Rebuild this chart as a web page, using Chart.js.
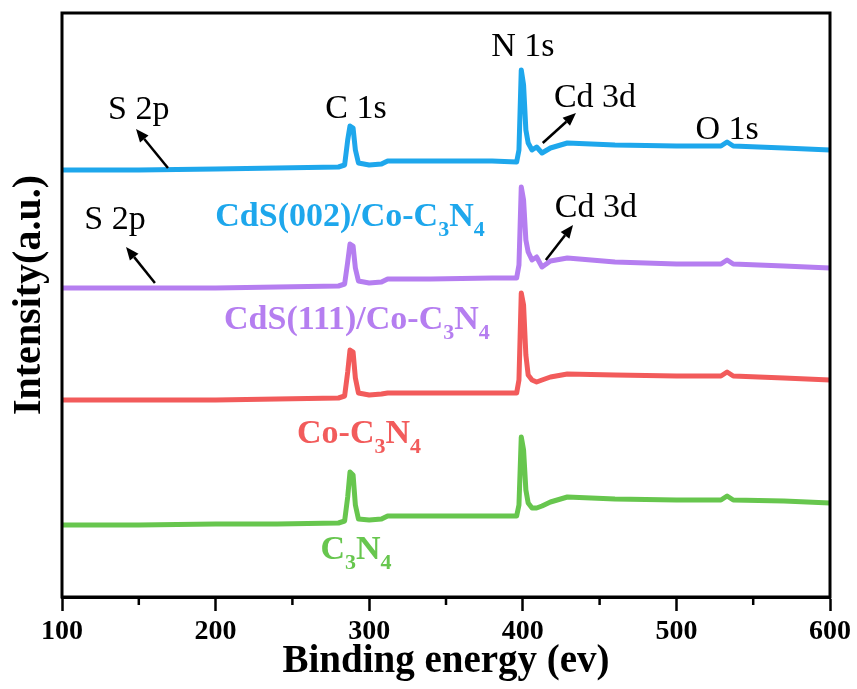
<!DOCTYPE html>
<html>
<head>
<meta charset="utf-8">
<script src="https://cdn.jsdelivr.net/npm/chart.js@4.4.1/dist/chart.umd.min.js"></script>
<style>
  html, body { margin: 0; padding: 0; background: #ffffff; }
  #wrap { width: 857px; height: 689px; }
</style>
</head>
<body>
<div id="wrap"><canvas id="xps" width="857" height="689"></canvas></div>
<script>
// XPS survey spectra, binding energy (eV) vs. stacked intensity (a.u.)
const energy = [100, 150, 200, 240, 280, 284, 286, 287.5, 289.5, 291, 293, 300, 308, 312, 340, 380,
  396, 397.5, 399, 400.5, 402, 403.5, 406, 409, 412.5, 418, 429, 460, 500, 529, 533, 537, 570, 600];

const c3n4    = [72, 72, 73, 73, 74, 76, 100, 125, 122, 92, 78, 77, 78, 81, 81, 81,
  81, 92, 160, 147, 107, 94, 89, 89, 91, 95, 100, 98, 97, 97, 101, 97, 96, 94];
const coC3n4  = [197, 197, 197, 198, 199, 201, 225, 247, 245, 219, 204, 202, 203, 204, 204, 204,
  204, 217, 304, 292, 242, 222, 217, 215, 217, 220, 223, 222, 221, 221, 225, 221, 219, 217];
const cds111  = [309, 309, 309, 310, 311, 313, 335, 353, 351, 329, 316, 314, 315, 318, 318, 319,
  319, 332, 410, 397, 357, 345, 337, 340, 330, 336, 339, 335, 333, 333, 337, 333, 331, 329];
const cds002  = [427, 427, 428, 429, 430, 432, 457, 471, 469, 447, 434, 432, 433, 436, 436, 436,
  435, 447, 527, 512, 467, 454, 447, 450, 444, 449, 454, 452, 451, 451, 455, 451, 449, 447];

const xMajorTicks = [100, 200, 300, 400, 500, 600];
const xMinorTicks = [150, 250, 350, 450, 550];

// sample names ("_x" marks a subscript character)
const sampleNames = ['C_3N_4', 'Co-C_3N_4', 'CdS(111)/Co-C_3N_4', 'CdS(002)/Co-C_3N_4'];
const sampleColors = ['#67c64e', '#f25b5b', '#b57ef0', '#1ea7ec'];

// peak assignments
const peakNames = ['N 1s', 'C 1s', 'S 2p', 'Cd 3d', 'O 1s', 'S 2p', 'Cd 3d'];

// label placement in data space
const peakLabelE = [400, 291.4, 150, 447, 533, 134.5, 447.6];
const peakLabelI = [550, 488, 487, 499, 467, 377, 389];
const arrowFromE = [169, 160.5, 413, 415];
const arrowFromI = [429, 314, 454, 337];
const arrowToE   = [148.2, 141.7, 434.6, 432.7];
const arrowToI   = [468, 350, 484, 372];
const sampleLabelE = [291.4, 293.4, 292, 287.5];
const sampleLabelI = [49, 165, 279, 382];
const yTitleI = 302;

const SERIF = '"Liberation Serif", "Times New Roman", serif';

function toPoints(values) {
  return energy.map((e, i) => ({ x: e, y: values[i] }));
}

function drawRichText(ctx, text, cx, cy, size, color) {
  const parts = [];
  for (let i = 0; i < text.length; i++) {
    if (text[i] === '_' && i + 1 < text.length) { parts.push({ t: text[i + 1], sub: true }); i++; }
    else if (parts.length && !parts[parts.length - 1].sub) parts[parts.length - 1].t += text[i];
    else parts.push({ t: text[i], sub: false });
  }
  const subSize = Math.round(size * 0.64);
  let total = 0;
  parts.forEach(p => {
    ctx.font = 'bold ' + (p.sub ? subSize : size) + 'px ' + SERIF;
    p.w = ctx.measureText(p.t).width;
    total += p.w;
  });
  let x = cx - total / 2;
  const base = cy + size * 0.33;
  ctx.fillStyle = color;
  ctx.textAlign = 'left';
  ctx.textBaseline = 'alphabetic';
  parts.forEach(p => {
    ctx.font = 'bold ' + (p.sub ? subSize : size) + 'px ' + SERIF;
    ctx.fillText(p.t, x, p.sub ? base + size * 0.3 : base);
    x += p.w;
  });
}

function drawArrow(ctx, x1, y1, x2, y2) {
  const ang = Math.atan2(y2 - y1, x2 - x1);
  const head = 13, half = 5.5;
  const bx = x2 - head * Math.cos(ang), by = y2 - head * Math.sin(ang);
  ctx.strokeStyle = '#000';
  ctx.lineWidth = 2.5;
  ctx.beginPath();
  ctx.moveTo(x1, y1);
  ctx.lineTo(bx, by);
  ctx.stroke();
  ctx.fillStyle = '#000';
  ctx.beginPath();
  ctx.moveTo(x2, y2);
  ctx.lineTo(bx + half * Math.sin(ang), by - half * Math.cos(ang));
  ctx.lineTo(bx - half * Math.sin(ang), by + half * Math.cos(ang));
  ctx.closePath();
  ctx.fill();
}

const decorations = {
  id: 'decorations',
  afterDatasetsDraw(chart) {
    const { ctx, chartArea: a, scales: { x, y } } = chart;
    ctx.save();
    // peak labels
    ctx.fillStyle = '#000';
    ctx.font = '34px ' + SERIF;
    ctx.textAlign = 'center';
    ctx.textBaseline = 'middle';
    peakNames.forEach((n, i) => {
      ctx.fillText(n, x.getPixelForValue(peakLabelE[i]), y.getPixelForValue(peakLabelI[i]));
    });
    // arrows
    arrowFromE.forEach((e, i) => {
      drawArrow(ctx, x.getPixelForValue(e), y.getPixelForValue(arrowFromI[i]),
        x.getPixelForValue(arrowToE[i]), y.getPixelForValue(arrowToI[i]));
    });
    // sample names
    sampleNames.forEach((n, i) => {
      drawRichText(ctx, n, x.getPixelForValue(sampleLabelE[i]), y.getPixelForValue(sampleLabelI[i]), 34, sampleColors[i]);
    });
    // frame
    ctx.strokeStyle = '#000';
    ctx.lineWidth = 3;
    ctx.strokeRect(a.left, a.top, a.right - a.left, a.bottom - a.top);
    // minor ticks
    ctx.lineWidth = 2.5;
    xMinorTicks.forEach(v => {
      const px = x.getPixelForValue(v);
      ctx.beginPath();
      ctx.moveTo(px, a.bottom);
      ctx.lineTo(px, a.bottom + 8);
      ctx.stroke();
    });
    // y axis title
    ctx.translate((y.left + a.left) / 2 - 1, y.getPixelForValue(yTitleI));
    ctx.rotate(-Math.PI / 2);
    ctx.fillStyle = '#000';
    ctx.font = 'bold 40px ' + SERIF;
    ctx.textAlign = 'center';
    ctx.textBaseline = 'middle';
    ctx.fillText('Intensity(a.u.)', 0, 0);
    ctx.restore();
  }
};

const seriesOrder = [c3n4, coC3n4, cds111, cds002];

new Chart(document.getElementById('xps'), {
  type: 'line',
  data: {
    datasets: seriesOrder.map((vals, i) => ({
      label: sampleNames[i].replace(/_/g, ''),
      data: toPoints(vals),
      borderColor: sampleColors[i],
      backgroundColor: sampleColors[i],
      borderWidth: 5,
      borderJoinStyle: 'round',
      borderCapStyle: 'round',
      pointRadius: 0,
      tension: 0,
      fill: false
    }))
  },
  options: {
    responsive: false,
    animation: false,
    devicePixelRatio: 1,
    layout: { padding: { left: 0, right: 27, top: 13, bottom: 0 } },
    plugins: { legend: { display: false }, tooltip: { enabled: false } },
    scales: {
      x: {
        type: 'linear',
        min: 100,
        max: 600,
        afterBuildTicks(scale) { scale.ticks = xMajorTicks.map(v => ({ value: v })); },
        afterFit(scale) { scale.height = 92; },
        grid: { display: true, drawOnChartArea: false, drawTicks: true, tickLength: 14, tickWidth: 2.5, color: '#000' },
        border: { display: true, color: '#000', width: 3 },
        ticks: { color: '#000', padding: 4, maxRotation: 0, font: { family: SERIF, size: 28, weight: 'bold' } },
        title: { display: true, text: 'Binding energy (ev)', color: '#000', padding: { top: 0, bottom: 4 },
          font: { family: SERIF, size: 39, weight: 'bold' } }
      },
      y: {
        type: 'linear',
        min: 0,
        max: 584,
        afterFit(scale) { scale.width = 62; },
        grid: { display: false },
        border: { display: false },
        ticks: { display: false },
        title: { display: false }
      }
    }
  },
  plugins: [decorations]
});
</script>
</body>
</html>
